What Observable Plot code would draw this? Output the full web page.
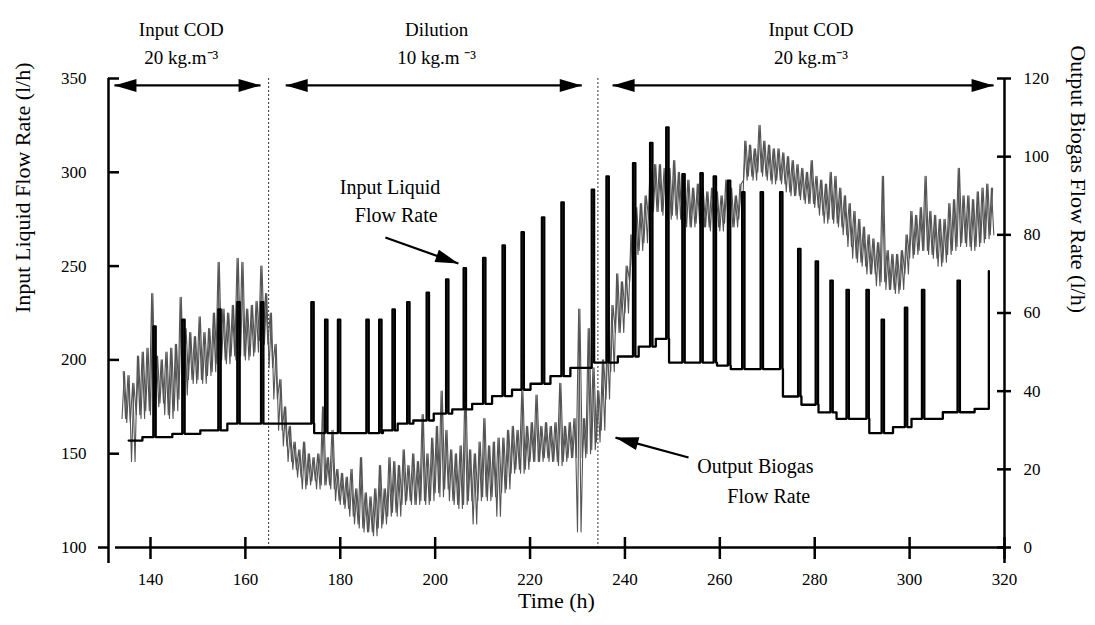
<!DOCTYPE html>
<html>
<head>
<meta charset="utf-8">
<script src="https://cdn.jsdelivr.net/npm/d3@7"></script>
<script src="https://cdn.jsdelivr.net/npm/@observablehq/plot@0.6"></script>
<style>
  body { margin: 0; background: #fff; }
</style>
</head>
<body>
<div id="chart"></div>
<script>
// ---------- scales / ticks ----------
const xDomain = [131.15, 320];
const yDomain = [100, 350];          // Input Liquid Flow Rate (l/h)
const bioDomain = [0, 120];          // Output Biogas Flow Rate (l/h)
const xTicks = [140, 160, 180, 200, 220, 240, 260, 280, 300, 320];
const leftTicks = [100, 150, 200, 250, 300, 350];
const rightTicks = [0, 20, 40, 60, 80, 100, 120];

// ---------- input liquid flow rate (step baseline + feed pulses) ----------
const inputBaseT = [135.4, 138.3, 144.6, 150.5, 156.2, 174.5, 189.0, 192.1, 195.4, 199.7, 203.6, 207.8, 212.0, 216.2, 220.1, 224.3, 228.5, 233.0, 238.5, 242.9, 246.5, 249.3, 259.4, 262.3, 273.3, 277.2, 280.8, 284.6, 291.5, 296.5, 300.4, 307.0, 313.7];
const inputBaseV = [157.0, 158.8, 160.6, 162.4, 166.0, 161.0, 162.4, 166.0, 167.7, 171.4, 173.6, 176.6, 180.7, 184.1, 187.3, 191.3, 195.8, 198.6, 201.8, 207.1, 211.2, 198.6, 197.0, 195.1, 180.5, 176.1, 172.0, 168.6, 161.0, 164.2, 168.6, 172.1, 173.9];
const pulseT = [140.6, 146.7, 154.3, 158.3, 163.3, 173.9, 176.8, 179.5, 185.5, 188.2, 191.0, 194.1, 198.2, 202.3, 206.0, 210.1, 214.2, 218.2, 222.5, 226.6, 233.0, 236.1, 241.7, 245.3, 248.7, 252.1, 255.9, 258.7, 261.7, 264.7, 268.6, 272.7, 276.5, 280.2, 283.3, 286.7, 290.9, 294.1, 299.0, 302.6, 310.1, 316.7];
const pulseV = [217.8, 221.4, 226.9, 230.8, 230.8, 230.8, 221.4, 221.4, 221.4, 221.4, 226.9, 230.8, 235.8, 242.9, 248.9, 254.4, 261.0, 268.1, 276.0, 284.0, 290.7, 297.8, 304.9, 315.7, 324.0, 299.0, 299.5, 297.8, 295.6, 289.4, 289.4, 289.4, 259.2, 252.5, 242.3, 237.3, 237.3, 221.4, 227.8, 237.3, 242.3, 247.3];
const pulseWidth = 0.5; // h

// ---------- output biogas flow rate (hourly low / high of the noisy trace) ----------
const bioStart = 134; // first hour
const bioLo = [33,32,22,34,33,35,34,36,37,34,33,35,38,39,43,42,43,42,44,45,47,48,47,49,48,49,48,49,50,53,52,46,38,30,26,22,20,18,15,16,17,15,16,16,15,12,11,10,8,6,5,4,4,3,5,6,8,9,8,11,12,11,11,12,11,12,14,13,15,12,11,10,11,12,6,12,13,12,13,8,14,15,19,20,19,20,22,22,22,23,22,22,21,22,23,23,4,23,24,25,27,30,38,45,55,55,60,68,75,76,78,84,86,86,85,84,85,84,83,82,82,83,82,82,81,82,81,83,82,82,84,94,95,94,96,95,94,93,94,93,91,90,90,89,88,88,87,85,83,84,83,82,80,77,74,73,72,70,70,67,68,66,66,65,66,70,74,75,76,76,75,74,72,73,75,76,77,78,77,76,77,78,79,80];
const bioHi = [45,44,42,49,50,51,65,49,48,50,51,52,64,56,55,54,59,55,56,60,73,61,60,62,74,73,61,62,63,72,65,60,52,43,36,31,27,25,27,24,23,24,36,23,30,20,19,18,20,15,23,14,13,15,21,15,23,22,21,25,21,24,22,34,24,28,31,40,30,25,24,26,40,25,24,27,33,26,27,28,28,30,31,30,40,31,32,39,31,32,31,32,42,31,32,33,61,33,56,46,40,48,55,62,70,68,72,80,87,88,90,96,98,98,97,97,99,96,95,94,92,93,92,91,92,91,90,94,92,90,93,104,103,102,108,104,103,102,102,101,100,99,98,97,96,99,95,94,93,96,95,92,90,88,86,84,82,80,79,78,95,76,75,75,76,80,86,85,87,95,86,85,84,84,88,89,97,90,90,89,91,92,93,92];

// ---------- annotations ----------
const boundaries = [164.9, 234.3];
const periodArrowY = 346.3;
const periods = [
  {x: 146.5, x1: 132.4, x2: 163.2, line1: "Input COD", line2: "20 kg.m\u207B\u00B3"},
  {x: 200.3, x1: 168.5, x2: 230.9, line1: "Dilution", line2: "10 kg.m \u207B\u00B3"},
  {x: 279.2, x1: 237.4, x2: 317.7, line1: "Input COD", line2: "20 kg.m\u207B\u00B3"}
];
const notes = [
  {x: 190.5, y: 291.9, text: "Input Liquid"},
  {x: 191.8, y: 277.0, text: "Flow Rate"},
  {x: 267.5, y: 143.2, text: "Output Biogas"},
  {x: 270.3, y: 127.4, text: "Flow Rate"}
];
const pointers = [
  {x1: 189.5, y1: 265.2, x2: 204.9, y2: 251.4},
  {x1: 253.4, y1: 148.0, x2: 238.0, y2: 158.6}
];

// ---------- layout ----------
const W = 1095, H = 625;
const mL = 108, mR = 91, mT = 78, mB = 78;
const frameW = W - mL - mR, frameH = H - mT - mB;

const toLeft = b => yDomain[0] + (b - bioDomain[0]) * (yDomain[1] - yDomain[0]) / (bioDomain[1] - bioDomain[0]);
const fromLeft = v => bioDomain[0] + (v - yDomain[0]) * (bioDomain[1] - bioDomain[0]) / (yDomain[1] - yDomain[0]);

// input series table
function baseAt(t) {
  let v = inputBaseV[0];
  inputBaseT.forEach((s, i) => { if (s <= t + 1e-9) v = inputBaseV[i]; });
  return v;
}
const inputPts = [];
inputBaseT.forEach((t, i) => inputPts.push({t, v: inputBaseV[i], k: 0}));
const lastPulse = pulseT[pulseT.length - 1];
pulseT.forEach((t, i) => {
  inputPts.push({t, v: pulseV[i], k: 1});
  const te = t + pulseWidth;
  if (te <= lastPulse) inputPts.push({t: te, v: baseAt(te), k: 2});
});
inputPts.sort((a, b) => (a.t - b.t) || (a.k - b.k));

// biogas tables: the hourly low/high readings traced as two interleaved zigzags
const bioA = [], bioB = [];
bioLo.forEach((lo, i) => {
  const t = bioStart + i;
  bioA.push({t, v: toLeft(lo)});
  bioA.push({t: t + 0.5, v: toLeft(bioHi[i])});
  bioB.push({t: t + 0.25, v: toLeft(bioHi[i])});
  bioB.push({t: t + 0.75, v: toLeft(lo)});
});

// arrow heads (filled), tip at origin
const sx = d3.scaleLinear(xDomain, [mL, W - mR]);
const sy = d3.scaleLinear(yDomain, [H - mB, mT]);
function head(angle, L = 22, Wd = 13) {
  const c = Math.cos(angle), s = Math.sin(angle);
  const p = (x, y) => [x * c - y * s, x * s + y * c];
  return {
    draw(ctx) {
      const a = p(-L, -Wd / 2), b = p(-L, Wd / 2);
      ctx.moveTo(0, 0); ctx.lineTo(a[0], a[1]); ctx.lineTo(b[0], b[1]); ctx.closePath();
    }
  };
}
const headRight = head(0), headLeft = head(Math.PI);
const pointerHeads = pointers.map(d =>
  Plot.dot([d], {x: "x2", y: "y2", r: 5, fill: "black", stroke: "none",
    symbol: head(Math.atan2(sy(d.y2) - sy(d.y1), sx(d.x2) - sx(d.x1)), 23, 13)}));

const font = "'Liberation Serif', 'Times New Roman', serif";

const chart = Plot.plot({
  width: W, height: H,
  marginLeft: mL, marginRight: mR, marginTop: mT, marginBottom: mB,
  x: {domain: xDomain},
  y: {domain: yDomain},
  style: {fontFamily: font, background: "white", color: "black"},
  marks: [
    // phase boundaries
    Plot.ruleX(boundaries, {stroke: "#333", strokeWidth: 1, strokeDasharray: "2,2"}),
    // biogas trace
    Plot.line(bioA, {x: "t", y: "v", stroke: "#555", strokeWidth: 1.1}),
    Plot.line(bioB, {x: "t", y: "v", stroke: "#555", strokeWidth: 1.1}),
    // input liquid flow rate
    Plot.line(inputPts, {x: "t", y: "v", curve: "step-after", stroke: "black", strokeWidth: 2.3}),
    // axes lines
    Plot.ruleY([yDomain[0]], {insetLeft: 7, stroke: "black", strokeWidth: 2.5}),
    Plot.ruleX([xDomain[0]], {insetBottom: -16, stroke: "black", strokeWidth: 2.5}),
    Plot.ruleX([xDomain[1]], {insetBottom: -16, insetTop: 1, stroke: "black", strokeWidth: 2.5}),
    // ticks
    Plot.ruleY(leftTicks.filter(v => v > yDomain[0]), {insetRight: frameW - 11, stroke: "black", strokeWidth: 2.5}),
    Plot.ruleY([yDomain[0]], {insetLeft: -10, insetRight: frameW, stroke: "black", strokeWidth: 2.5}),
    Plot.ruleY(rightTicks.map(toLeft), {insetLeft: frameW - 7, insetRight: -7, stroke: "black", strokeWidth: 2.5}),
    Plot.ruleX(xTicks, {insetTop: frameH - 10, insetBottom: -12, stroke: "black", strokeWidth: 2.5}),
    // tick labels
    Plot.axisX(xTicks, {tickSize: 0, tickPadding: 25, fontSize: 17, label: null}),
    Plot.axisY(leftTicks, {anchor: "left", tickSize: 0, tickPadding: 22, fontSize: 17, label: null}),
    Plot.axisY(rightTicks.map(toLeft), {anchor: "right", tickSize: 0, tickPadding: 19, fontSize: 17, label: null,
      tickFormat: v => String(Math.round(fromLeft(v)))}),
    // axis titles
    Plot.text(["Input Liquid Flow Rate (l/h)"], {text: d => d, frameAnchor: "left", dx: -86, rotate: -90, fontSize: 22}),
    Plot.text(["Output Biogas Flow Rate (l/h)"], {text: d => d, frameAnchor: "right", dx: 74, rotate: 90, fontSize: 22}),
    Plot.text(["Time (h)"], {text: d => d, frameAnchor: "bottom", dy: 60, fontSize: 22}),
    // period labels and arrows
    Plot.text(periods, {x: "x", text: "line1", frameAnchor: "top", dy: -56, fontSize: 19}),
    Plot.text(periods, {x: "x", text: "line2", frameAnchor: "top", dy: -28, fontSize: 19}),
    Plot.link(periods, {x1: "x1", x2: "x2", y1: () => periodArrowY, y2: () => periodArrowY, stroke: "black", strokeWidth: 2.2}),
    Plot.dot(periods, {x: "x2", y: () => periodArrowY, r: 5, symbol: headRight, fill: "black", stroke: "none"}),
    Plot.dot(periods, {x: "x1", y: () => periodArrowY, r: 5, symbol: headLeft, fill: "black", stroke: "none"}),
    // series annotations
    Plot.text(notes, {x: "x", y: "y", text: "text", fontSize: 20}),
    Plot.link(pointers, {x1: "x1", y1: "y1", x2: "x2", y2: "y2", stroke: "black", strokeWidth: 2.2}),
    ...pointerHeads
  ]
});
document.getElementById("chart").appendChild(chart);
</script>
</body>
</html>
